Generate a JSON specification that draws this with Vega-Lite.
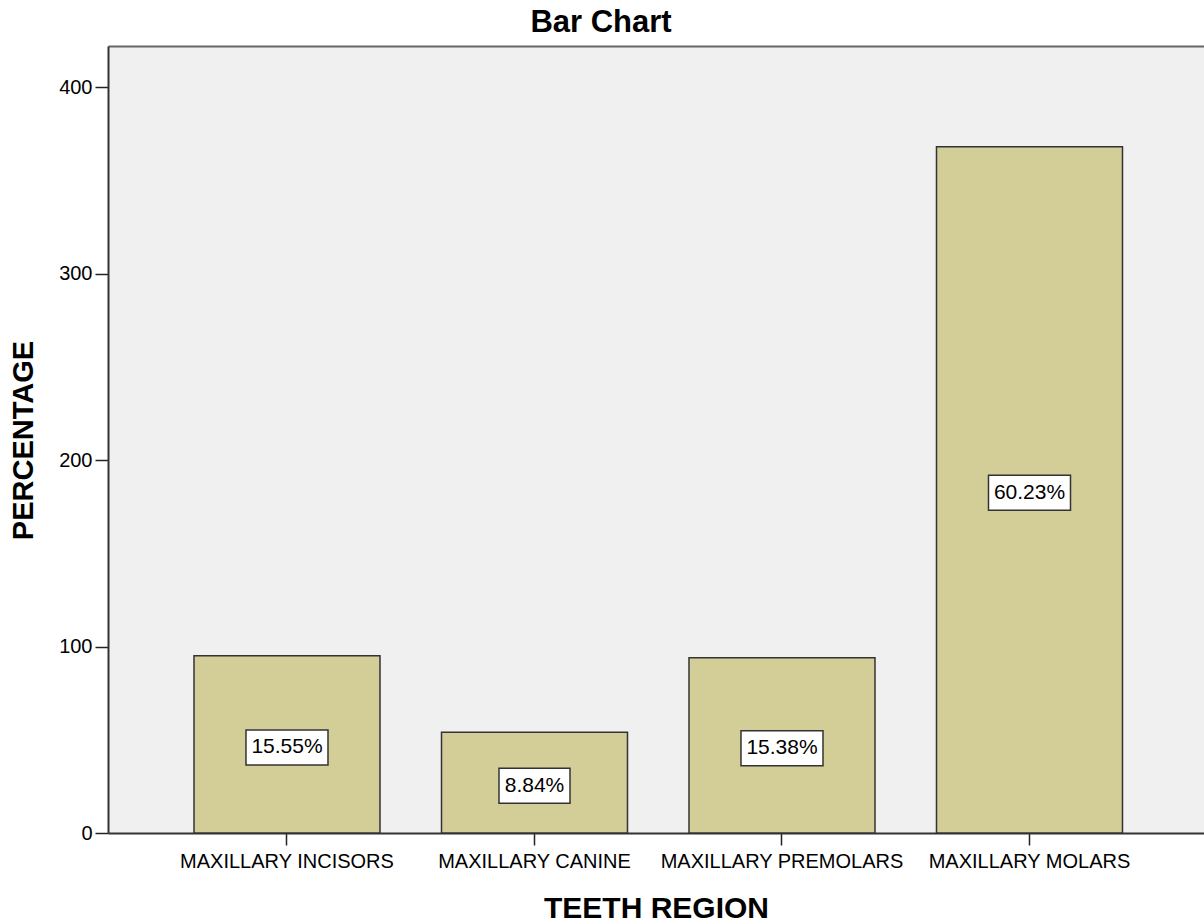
{
  "$schema": "https://vega.github.io/schema/vega-lite/v6.json",
  "autosize": {"type": "none"},
  "width": 1096,
  "height": 787,
  "padding": {"left": 108, "top": 46, "right": 0, "bottom": 90},
  "background": "white",
  "title": {
    "text": "Bar Chart",
    "anchor": "middle",
    "frame": "group",
    "dx": -55,
    "offset": -17,
    "baseline": "alphabetic",
    "font": "Liberation Sans",
    "fontSize": 31,
    "fontWeight": "bold",
    "color": "#000000"
  },
  "config": {
    "view": {"fill": "#f0f0f0", "stroke": null},
    "font": "Liberation Sans"
  },
  "data": {
    "values": [
      {"region": "MAXILLARY INCISORS", "count": 95},
      {"region": "MAXILLARY CANINE", "count": 54},
      {"region": "MAXILLARY PREMOLARS", "count": 94},
      {"region": "MAXILLARY MOLARS", "count": 368}
    ]
  },
  "transform": [
    {"joinaggregate": [{"op": "sum", "field": "count", "as": "total"}]},
    {"calculate": "format(100 * datum.count / datum.total, '.2f') + '%'", "as": "label"},
    {"calculate": "datum.count / 2", "as": "mid"}
  ],
  "resolve": {"axis": {"x": "independent"}},
  "layer": [
    {
      "mark": {"type": "bar", "fill": "#d3ce97", "stroke": "#333333", "strokeWidth": 1.5},
      "encoding": {
        "x": {
          "field": "region",
          "type": "nominal",
          "sort": null,
          "scale": {"paddingInner": 0.2485, "paddingOuter": 0.3384, "align": 0.5134},
          "axis": {
            "title": "TEETH REGION",
            "titleFont": "Liberation Sans",
            "titleFontSize": 30,
            "titleFontWeight": "bold",
            "titleColor": "#000000",
            "titleBaseline": "alphabetic",
            "titleY": 84,
            "labelAngle": 0,
            "labelLimit": 0,
            "labelFont": "Liberation Sans",
            "labelFontSize": 20,
            "labelColor": "#000000",
            "labelPadding": 6,
            "tickSize": 12,
            "tickColor": "#222222",
            "tickWidth": 1.5,
            "domainColor": "#333333",
            "domainWidth": 2
          }
        },
        "y": {
          "field": "count",
          "type": "quantitative",
          "scale": {"domain": [0, 422], "nice": false},
          "axis": {
            "title": "PERCENTAGE",
            "values": [0, 100, 200, 300, 400],
            "grid": false,
            "titleFont": "Liberation Sans",
            "titleFontSize": 29,
            "titleFontWeight": "bold",
            "titleColor": "#000000",
            "titleBaseline": "alphabetic",
            "titleAngle": -90,
            "titleX": -76,
            "titleY": 394,
            "titleAlign": "center",
            "labelFont": "Liberation Sans",
            "labelFontSize": 20,
            "labelColor": "#000000",
            "labelPadding": 3,
            "tickSize": 13,
            "tickColor": "#222222",
            "tickWidth": 1.5,
            "domainColor": "#333333",
            "domainWidth": 2
          }
        }
      }
    },
    {
      "mark": {"type": "point", "filled": true, "fill": "white", "stroke": "#333333", "strokeWidth": 1.5, "opacity": 1, "yOffset": 3},
      "encoding": {
        "x": {
          "field": "region",
          "type": "nominal",
          "sort": null,
          "axis": {
            "orient": "top",
            "title": null,
            "labels": false,
            "ticks": false,
            "domainColor": "#666666",
            "domainWidth": 2
          }
        },
        "y": {"field": "mid", "type": "quantitative"},
        "size": {"value": 6724},
        "shape": {
          "condition": {"test": "length(datum.label) < 6", "value": "M-0.866,-0.427H0.866V0.427H-0.866Z"},
          "value": "M-1,-0.427H1V0.427H-1Z"
        }
      }
    },
    {
      "mark": {"type": "text", "font": "Liberation Sans", "fontSize": 21, "color": "#000000", "align": "center", "baseline": "middle", "yOffset": 3},
      "encoding": {
        "x": {"field": "region", "type": "nominal", "sort": null, "axis": null},
        "y": {"field": "mid", "type": "quantitative"},
        "text": {"field": "label"}
      }
    }
  ]
}
